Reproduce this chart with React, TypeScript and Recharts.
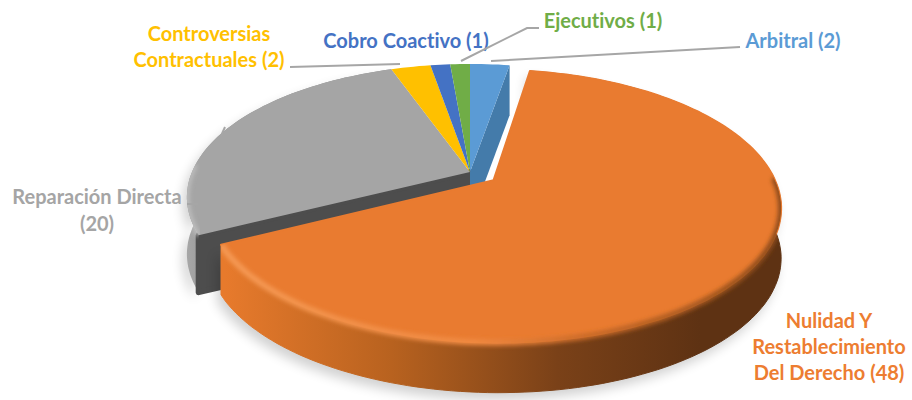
import * as React from 'react';
import { PieChart, Pie } from 'recharts';

// drawn back to front: the exploded orange slice has to land on top
const categories = ['Reparación Directa', 'Controversias Contractuales', 'Cobro Coactivo', 'Ejecutivos', 'Arbitral', 'Nulidad Y Restablecimiento Del Derecho'];
const values = [20, 2, 1, 1, 2, 48];
const colors = ['#A5A5A5', '#FFC000', '#4472C4', '#70AD47', '#5B9BD5', '#E97B30'];
const labelLines = [
  ['Reparación Directa', '(20)'],
  ['Controversias', 'Contractuales (2)'],
  ['Cobro Coactivo (1)'],
  ['Ejecutivos (1)'],
  ['Arbitral (2)'],
  ['Nulidad Y', 'Restablecimiento', 'Del Derecho (48)'],
];
const textColors = ['#A5A5A5', '#FFC000', '#4472C4', '#70AD47', '#5B9BD5', '#ED7D31'];

const rows = categories.map((name, i) => ({ name, value: values[i], fill: colors[i] }));
const total = values.reduce((a, b) => a + b, 0);
// Arbitral's far edge sits at 12 o'clock going clockwise, everything else follows from that
const START = 90 - ((values[4] + values[5]) / total) * 360;

// fake 3d projection of the pie plane
const TILT = 0.462;
const PERSP = 0.189;
const DEPTH = 50;
const GRAY_DEPTH = 57;
const EXPLODE = 29;
const RAD = Math.PI / 180;

const labelPos = [
  { x: 97, y: 204, dy: 27 },
  { x: 209, y: 41, dy: 26 },
  { x: 406, y: 48, dy: 0 },
  { x: 603, y: 28, dy: 0 },
  { x: 793, y: 48, dy: 0 },
  { x: 829, y: 328, dy: 26 },
];
const leaders = [
  ['187,204 198,204', '225,127 221,136'],
  ['290,67 400,64'],
  [],
  ['461,61 527,28 539,28'],
  ['491,61 740,47'],
  [],
];

function makeProject(cx: number, cy: number, r: number, off: number, mid: number) {
  const ou = off * Math.cos(mid * RAD);
  const ov = off * Math.sin(mid * RAD);
  return (radius: number, deg: number) => {
    const u = radius * Math.cos(deg * RAD) + ou;
    const v = radius * Math.sin(deg * RAD) + ov;
    const s = 1 / (1 + (PERSP * v) / r);
    return [cx + u * s, cy - TILT * v * s];
  };
}

function pathOf(pts: number[][], close = true) {
  return pts.map((p, i) => `${i ? 'L' : 'M'}${p[0].toFixed(1)},${p[1].toFixed(1)}`).join(' ') + (close ? ' Z' : '');
}

function Slice(props: any) {
  const { cx, cy, outerRadius: r, startAngle, endAngle, fill, name } = props;
  const isOrange = name === categories[5];
  const isGray = name === categories[0];
  const isArbitral = name === categories[4];
  const mid = (startAngle + endAngle) / 2;
  const project = makeProject(cx, cy, r, isOrange ? EXPLODE : 0, mid);

  const rim: number[][] = [];
  const steps = Math.max(2, Math.ceil(Math.abs(endAngle - startAngle) / 1.5));
  for (let i = 0; i <= steps; i++) {
    rim.push(project(r, startAngle + ((endAngle - startAngle) * i) / steps));
  }
  const tip = project(0, 0);
  const depth = isGray ? GRAY_DEPTH : DEPTH;
  const down = (p: number[]) => [p[0], p[1] + depth];
  const band = [...rim, ...rim.slice().reverse().map(down)];
  const top = [tip, ...rim];
  const clipId = `slice-clip-${categories.indexOf(name)}`;

  // the part of the rim that faces the viewer, for the soft bevel
  const front = rim.filter((p) => p[1] > cy + 4);
  const grayBevel = rim.filter((p) => p[1] > cy - 10);

  return (
    <g>
      <clipPath id={clipId}>
        <path d={pathOf(band)} />
        <path d={pathOf(top)} />
      </clipPath>
      {(isOrange || isGray) && (
        <path d={pathOf(band)} transform="translate(-4,7)" fill="#000" opacity={0.18} filter="url(#softShadow)" />
      )}
      {isOrange && <path d={pathOf(band)} fill="url(#sideOrange)" stroke="url(#sideOrange)" strokeWidth={1} />}
      {isGray && <path d={pathOf(band)} fill="url(#sideGray)" />}
      {isGray && (
        <path
          d={pathOf([rim[0], tip, down(tip), down(rim[0])])}
          fill="#4D4D4D"
          stroke="#4D4D4D"
          strokeWidth={6}
          strokeLinejoin="round"
        />
      )}
      {isArbitral && <path d={pathOf([rim[rim.length - 1], tip, down(tip), down(rim[rim.length - 1])])} fill="#447BAA" />}
      <path d={pathOf(top)} fill={fill} stroke={isOrange ? fill : 'none'} strokeWidth={isOrange ? 2 : 0} strokeLinejoin="round" />
      {isOrange && front.length > 1 && (
        <g clipPath={`url(#${clipId})`}>
          <path d={pathOf(front, false)} fill="none" stroke="url(#bevelOrange)" strokeWidth={6} filter="url(#softBevel)" />
        </g>
      )}
      {isGray && (
        <g clipPath={`url(#${clipId})`}>
          <path d={pathOf(grayBevel, false)} fill="none" stroke="#BDBDBD" strokeWidth={5} filter="url(#softBevel)" />
        </g>
      )}
    </g>
  );
}

function renderLabel(props: any) {
  const i = props.index;
  const pos = labelPos[i];
  return (
    <g key={categories[i]}>
      {leaders[i].map((pts) => (
        <polyline key={pts} points={pts} fill="none" stroke="#A6A6A6" strokeWidth={2} />
      ))}
      <text
        x={pos.x}
        y={pos.y}
        textAnchor="middle"
        fill={textColors[i]}
        fontFamily="Lato"
        fontWeight={700}
        fontSize={20}
        style={{ fontVariantLigatures: 'none' }}
      >
        {labelLines[i].map((line, j) => (
          <tspan key={line} x={pos.x} dy={j ? pos.dy : 0}>
            {line}
          </tspan>
        ))}
      </text>
    </g>
  );
}

export default function App() {
  return (
    <div style={{ position: 'absolute', left: 0, top: 0, width: 912, height: 400, background: '#fff' }}>
      <PieChart width={912} height={400} margin={{ top: 0, right: 0, bottom: 0, left: 0 }}>
        <defs>
          <linearGradient id="sideOrange" gradientUnits="userSpaceOnUse" x1="225" y1="0" x2="700" y2="0">
            <stop offset="0%" stopColor="#E77A2C" />
            <stop offset="35%" stopColor="#B8621F" />
            <stop offset="70%" stopColor="#7A4118" />
            <stop offset="100%" stopColor="#5E3213" />
          </linearGradient>
          <linearGradient id="sideGray" gradientUnits="userSpaceOnUse" x1="185" y1="0" x2="225" y2="0">
            <stop offset="0%" stopColor="#A8A8A8" />
            <stop offset="100%" stopColor="#8E8E8E" />
          </linearGradient>
          <linearGradient id="bevelOrange" gradientUnits="userSpaceOnUse" x1="225" y1="0" x2="780" y2="0">
            <stop offset="0%" stopColor="#F59A55" />
            <stop offset="45%" stopColor="#F08A42" />
            <stop offset="65%" stopColor="#C96A28" />
            <stop offset="100%" stopColor="#8A4A1A" />
          </linearGradient>
          <filter id="softShadow" x="-10%" y="-10%" width="120%" height="120%">
            <feGaussianBlur stdDeviation="6" />
          </filter>
          <filter id="softBevel" x="-10%" y="-10%" width="120%" height="120%">
            <feGaussianBlur stdDeviation="2" />
          </filter>
        </defs>
        <Pie
          data={rows}
          dataKey="value"
          nameKey="name"
          cx={470}
          cy={172}
          innerRadius={0}
          outerRadius={278}
          startAngle={START}
          endAngle={START - 360}
          stroke="none"
          shape={Slice}
          label={renderLabel}
          labelLine={false}
          isAnimationActive={false}
        />
      </PieChart>
    </div>
  );
}
